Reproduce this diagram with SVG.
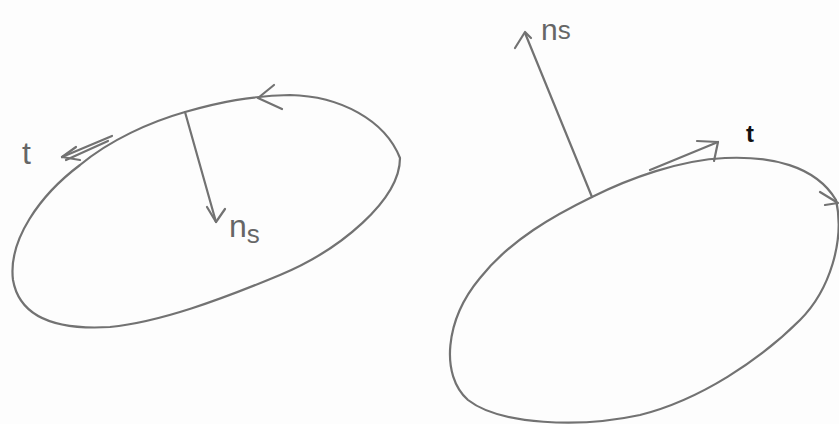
<svg xmlns="http://www.w3.org/2000/svg" width="839" height="424" viewBox="0 0 839 424">
<style>
.ln{fill:none;stroke:#727272;stroke-width:2.2;stroke-linecap:round;stroke-linejoin:round}
.hw{font-family:"Liberation Sans",Arial,sans-serif;fill:#666666}
.tb{font-family:"Liberation Sans",Arial,sans-serif;font-weight:bold;fill:#111111;font-size:24px}
</style>
<rect width="839" height="424" fill="#fdfdfd"/>
<g id="left-ellipse">
<path class="ln" d="M185,112 C220,102 250,96 290,95 C340,96 385,120 400,158 C400,200 340,250 280,275 C220,300 160,322 110,327 C60,330 20,320 13,280 C8,240 40,195 80,165 C110,140 150,122 185,112 Z"/>
<path class="ln" d="M274,85 L258,98 L282,109"/>
</g>
<g id="left-t">
<path class="ln" d="M112,136 L62,157 M108,141 L66,160"/>
<path class="ln" d="M62,157 L76,147 M62,157 L80,160"/>
<text class="hw" x="22" y="164" font-size="32">t</text>
</g>
<g id="left-ns">
<path class="ln" d="M185,112 L216,222"/>
<path class="ln" d="M207,207 L216,222 L225,209"/>
<text class="hw" x="229" y="237" font-size="32">n<tspan font-size="26" dy="6">s</tspan></text>
</g>
<g id="right-ellipse">
<path class="ln" d="M592,197 C630,178 680,160 725,158 C770,156 815,165 836,200 C845,240 830,290 800,320 C760,360 700,400 640,415 C580,428 500,425 468,400 C440,375 445,320 480,278 C510,240 555,215 592,197 Z"/>
<path class="ln" d="M820,192 L838,203 M825,205 L838,203"/>
</g>
<g id="right-ns">
<path class="ln" d="M592,197 L525,33"/>
<path class="ln" d="M515,48 L525,32 L531,38"/>
<text class="hw" x="541" y="40" font-size="30">n<tspan font-size="26" dy="-1">s</tspan></text>
</g>
<g id="right-t">
<path class="ln" d="M650,170 L718,142"/>
<path class="ln" d="M697,141 L718,142 L714,161"/>
<text class="tb" x="746" y="142">t</text>
</g>
</svg>
